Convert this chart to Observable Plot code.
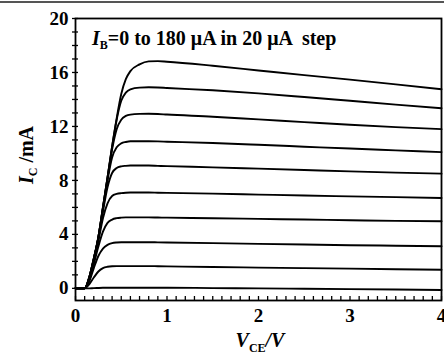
<!DOCTYPE html>
<html>
<head>
<meta charset="utf-8">
<script src="https://cdn.jsdelivr.net/npm/d3@7"></script>
<script src="https://cdn.jsdelivr.net/npm/@observablehq/plot@0.6"></script>
<style>
  html, body { margin: 0; padding: 0; background: white; }
  #wrap { position: relative; width: 444px; height: 358px; overflow: hidden; }
</style>
</head>
<body>
<div id="wrap"></div>
<script>
// V_CE grid (V)
const vce = [0, 0.1, 0.15, 0.2, 0.25, 0.3, 0.35, 0.4, 0.45, 0.5, 0.55, 0.6, 0.7, 0.8, 0.9, 1.0, 1.5, 2.0, 2.5, 3.0, 3.5, 4.0];
// I_C (mA) for each base current I_B (µA)
const ib0   = [0, 0, 0, 0.02, 0.03, 0.04, 0.05, 0.05, 0.05, 0.05, 0.05, 0.05, 0.05, 0.05, 0.05, 0.05, 0.02, 0, -0.03, -0.06, -0.09, -0.12];
const ib20  = [0, 0, 0.3, 0.8, 1.25, 1.5, 1.6, 1.64, 1.65, 1.65, 1.65, 1.65, 1.65, 1.65, 1.64, 1.63, 1.58, 1.54, 1.5, 1.46, 1.42, 1.38];
const ib40  = [0, 0, 0.5, 1.5, 2.4, 2.95, 3.22, 3.35, 3.4, 3.42, 3.42, 3.42, 3.42, 3.42, 3.41, 3.4, 3.35, 3.3, 3.25, 3.2, 3.16, 3.12];
const ib60  = [0, 0, 0.6, 1.8, 3.1, 4.2, 4.85, 5.1, 5.2, 5.24, 5.26, 5.26, 5.26, 5.26, 5.25, 5.24, 5.2, 5.15, 5.1, 5.05, 5.0, 4.97];
const ib80  = [0, 0, 0.7, 2.0, 3.5, 5.2, 6.3, 6.85, 7.0, 7.06, 7.09, 7.1, 7.1, 7.1, 7.09, 7.08, 7.02, 6.95, 6.88, 6.82, 6.76, 6.7];
const ib100 = [0, 0, 0.75, 2.1, 3.7, 5.7, 7.5, 8.55, 8.92, 9.04, 9.08, 9.1, 9.1, 9.1, 9.08, 9.06, 8.97, 8.87, 8.77, 8.67, 8.58, 8.5];
const ib120 = [0, 0, 0.8, 2.2, 3.8, 5.9, 8.0, 9.7, 10.45, 10.75, 10.85, 10.9, 10.9, 10.9, 10.89, 10.87, 10.77, 10.64, 10.5, 10.36, 10.23, 10.1];
const ib140 = [0, 0, 0.8, 2.2, 3.8, 6.0, 8.2, 10.3, 11.8, 12.5, 12.78, 12.88, 12.93, 12.94, 12.92, 12.88, 12.72, 12.52, 12.32, 12.12, 11.95, 11.8];
const ib160 = [0, 0, 0.8, 2.2, 3.8, 6.0, 8.2, 10.5, 12.5, 13.9, 14.5, 14.75, 14.88, 14.9, 14.89, 14.85, 14.68, 14.45, 14.18, 13.9, 13.62, 13.35];
const ib180 = [0, 0, 0.8, 2.2, 3.8, 6.0, 8.2, 10.5, 12.6, 14.4, 15.5, 16.1, 16.6, 16.82, 16.84, 16.8, 16.5, 16.15, 15.8, 15.47, 15.12, 14.76];
const ibLevels = [0, 20, 40, 60, 80, 100, 120, 140, 160, 180];
const curves = [ib0, ib20, ib40, ib60, ib80, ib100, ib120, ib140, ib160, ib180];

const xTicks = [0, 1, 2, 3, 4];
const yTicks = [0, 4, 8, 12, 16, 20];
const xMinor = d3.range(0, 41).map(i => i / 10);
const yMinor = d3.range(0, 21);

const rows = [];
curves.forEach((c, k) => c.forEach((v, i) => rows.push({ib: ibLevels[k], v: vce[i], i: v})));

const font = "'Liberation Serif', 'DejaVu Serif', serif";
const plot = Plot.plot({
  width: 444,
  height: 358,
  marginLeft: 75,
  marginRight: 3,
  marginTop: 18,
  marginBottom: 58,
  x: {domain: [0, 4]},
  y: {domain: [-0.9, 20]},
  style: {fontFamily: font, fontWeight: "bold", fontSize: "19px", color: "black", background: "white"},
  marks: [
    Plot.axisX({ticks: xMinor, tickSize: 4, dy: -4, tickFormat: () => "", label: null, strokeWidth: 1.3}),
    Plot.axisX({ticks: xTicks, tickSize: 0, tickPadding: 8, tickFormat: d3.format("d"), label: null}),
    Plot.axisY({ticks: yMinor, tickSize: 6, dx: 3, tickFormat: () => "", label: null, strokeWidth: 1.3}),
    Plot.axisY({ticks: yTicks, tickSize: 0, tickPadding: 7, tickFormat: d3.format("d"), label: null}),
    Plot.frame({stroke: "black", strokeWidth: 1.8}),
    Plot.line(rows, {x: "v", y: "i", z: "ib", stroke: "black", strokeWidth: 1.9, curve: "monotone-x"})
  ]
});

const svg = d3.select(plot);
// scan header rule
svg.append("line").attr("x1", 0).attr("x2", 444).attr("y1", 2).attr("y2", 2)
  .attr("stroke", "#555").attr("stroke-width", 2);
// Title
const t = svg.append("text").attr("x", 92).attr("y", 45).attr("text-anchor", "start")
  .attr("font-family", font).attr("font-weight", "bold").attr("font-size", 20).attr("fill", "black");
t.append("tspan").attr("font-style", "italic").text("I");
t.append("tspan").attr("font-size", 12).attr("dy", 4).text("B");
t.append("tspan").attr("dy", -4).text("=0 to 180 μA in 20 μA  step");
// Y label
const yl = svg.append("text").attr("transform", "translate(33,155) rotate(-90)")
  .attr("text-anchor", "middle").attr("font-family", font).attr("font-weight", "bold")
  .attr("font-size", 20).attr("fill", "black");
yl.append("tspan").attr("font-style", "italic").text("I");
yl.append("tspan").attr("font-size", 12).attr("dy", 4).text("C");
yl.append("tspan").attr("dy", -4).text(" /mA");
// X label
const xl = svg.append("text").attr("x", 260).attr("y", 347)
  .attr("text-anchor", "middle").attr("font-family", font).attr("font-weight", "bold")
  .attr("font-size", 20).attr("fill", "black");
xl.append("tspan").attr("font-style", "italic").text("V");
xl.append("tspan").attr("font-size", 12).attr("dy", 5).text("CE");
xl.append("tspan").attr("dy", -5).attr("font-style", "italic").text("/V");

document.getElementById("wrap").appendChild(plot);
</script>
</body>
</html>
